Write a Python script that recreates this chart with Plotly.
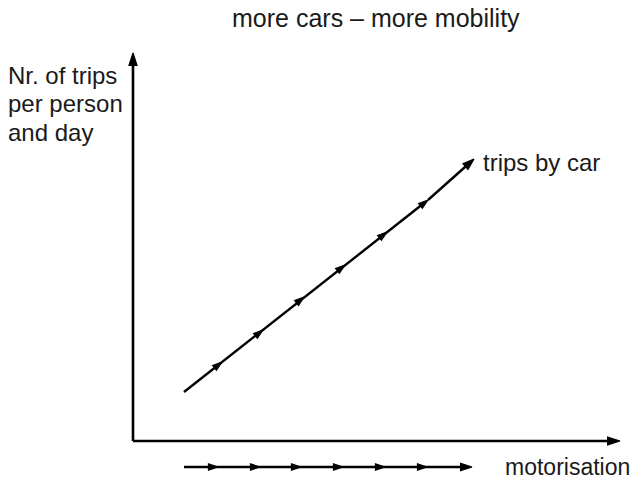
import plotly.graph_objects as go

# Schematic data (units relative to the axis origin)
car_x = [51, 89, 130, 171, 212, 254, 295, 341]
car_y = [49, 79, 111, 144, 176, 209, 241, 282]
motor_x = [51, 85, 127, 168, 210, 252, 294, 339]
motor_y = [-26] * len(motor_x)
yaxis_x = [0, 0]
yaxis_y = [0, 388]
xaxis_x = [0, 487]
xaxis_y = [0, 0]

title_text = "more cars \u2013 more mobility"
ylabel_lines = ["Nr. of trips", "per person", "and day"]
ylabel_y = [366, 338, 309]
car_label = "trips by car"
motor_label = "motorisation"

FONT = "Liberation Sans, Arial, sans-serif"
INK = "#000000"
TXT = "#1a1a1a"

fig = go.Figure()

def arrow_trace(xs, ys, width, mid_size, tip_size):
    n = len(xs)
    sizes = [0] + [mid_size] * (n - 2) + [tip_size]
    return go.Scatter(
        x=xs, y=ys, mode="lines+markers",
        line=dict(color=INK, width=width),
        marker=dict(symbol="arrow", angleref="previous", size=sizes, color=INK,
                    opacity=1, line=dict(width=1.2, color=INK)),
        hoverinfo="skip", showlegend=False,
    )

fig.add_trace(arrow_trace(yaxis_x, yaxis_y, 2.6, 0, 13))
fig.add_trace(arrow_trace(xaxis_x, xaxis_y, 2.6, 0, 13))
fig.add_trace(arrow_trace(car_x, car_y, 2.4, 10, 12))
fig.add_trace(arrow_trace(motor_x, motor_y, 2.4, 10, 12))

ann = []
ann.append(dict(x=243, y=423, text=title_text, font=dict(size=25, color=TXT, family=FONT),
                xanchor="center", yanchor="middle"))
for t, yy in zip(ylabel_lines, ylabel_y):
    ann.append(dict(x=-126, y=yy, text=t, font=dict(size=24, color=TXT, family=FONT),
                    xanchor="left", yanchor="middle"))
ann.append(dict(x=349, y=279, text=car_label, font=dict(size=24, color=TXT, family=FONT),
                xanchor="left", yanchor="middle"))
ann.append(dict(x=371, y=-26, text=motor_label, font=dict(size=23, color=TXT, family=FONT),
                xanchor="left", yanchor="middle"))
for a in ann:
    a.update(xref="x", yref="y", showarrow=False, borderpad=0)

fig.update_layout(
    width=632, height=483,
    margin=dict(l=0, r=0, t=0, b=0),
    paper_bgcolor="white", plot_bgcolor="white",
    xaxis=dict(range=[-133, 499], visible=False, fixedrange=True),
    yaxis=dict(range=[-42, 441], visible=False, fixedrange=True),
    annotations=ann,
)

fig.write_html("out.html", config={"displayModeBar": False},
               post_script="document.body.style.margin='0';document.body.style.overflow='hidden';")
